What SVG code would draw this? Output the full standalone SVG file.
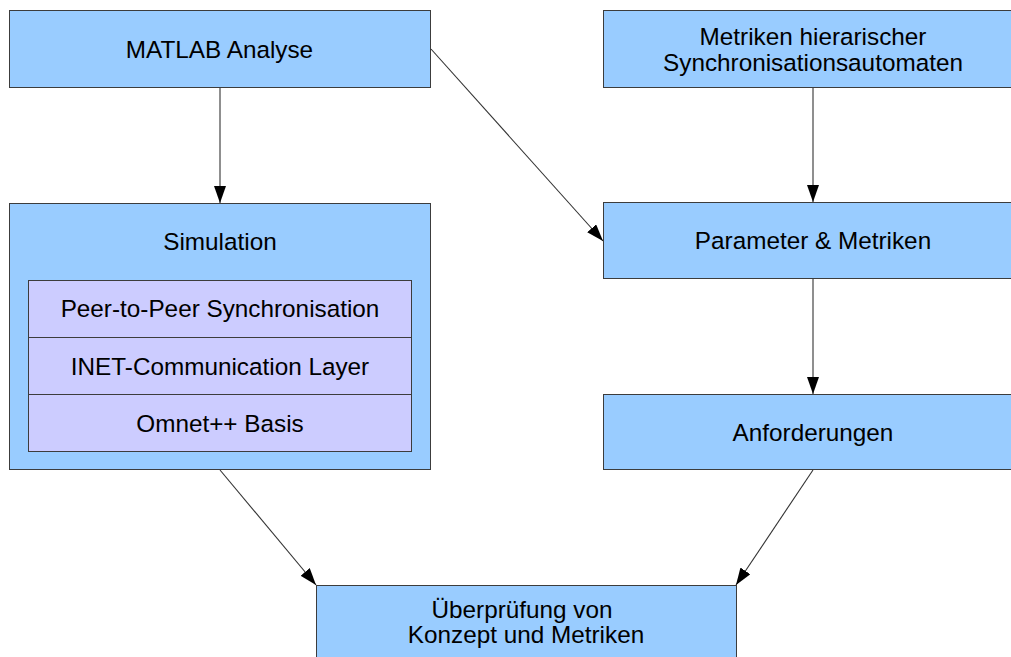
<svg xmlns="http://www.w3.org/2000/svg" width="1011" height="657" viewBox="0 0 1011 657">
<style>
.box{fill:#99ccff;stroke:#3c3c3c;stroke-width:1}
.inner{fill:#ccccff;stroke:#3c3c3c;stroke-width:1}
.t{font-family:"Liberation Sans",Arial,sans-serif;font-size:24.3px;fill:#000;text-anchor:middle}
.c{stroke:#333;stroke-width:1.1;fill:none;marker-end:url(#ah)}
</style>
<defs>
<marker id="ah" markerUnits="userSpaceOnUse" viewBox="0 0 17 12" refX="17" refY="6" markerWidth="17" markerHeight="12" orient="auto">
<path d="M0,0 L17,6 L0,12 z" fill="#000"/>
</marker>
</defs>
<rect width="1011" height="657" fill="#fff"/>
<g id="connectors">
<line class="c" x1="220" y1="88" x2="220" y2="203"/>
<line class="c" x1="431" y1="49" x2="603" y2="241"/>
<line class="c" x1="813" y1="88" x2="813" y2="202"/>
<line class="c" x1="813" y1="279" x2="813" y2="394"/>
<line class="c" x1="220" y1="470" x2="316" y2="585"/>
<line class="c" x1="813" y1="470" x2="736" y2="585"/>
</g>
<g id="matlab">
<rect class="box" x="9.5" y="10.5" width="421" height="77"/>
<text class="t" x="219.5" y="57.5">MATLAB Analyse</text>
</g>
<g id="metriken">
<rect class="box" x="603.5" y="10.5" width="420" height="77"/>
<text class="t" x="813" y="45">Metriken hierarischer</text>
<text class="t" x="813" y="71">Synchronisationsautomaten</text>
</g>
<g id="simulation">
<rect class="box" x="9.5" y="203.5" width="421" height="266"/>
<text class="t" x="220" y="250">Simulation</text>
</g>
<g id="peer">
<rect class="inner" x="28.5" y="280.5" width="383" height="57"/>
<text class="t" x="220" y="317">Peer-to-Peer Synchronisation</text>
</g>
<g id="inet">
<rect class="inner" x="28.5" y="337.5" width="383" height="57"/>
<text class="t" x="220" y="374.5">INET-Communication Layer</text>
</g>
<g id="omnet">
<rect class="inner" x="28.5" y="394.5" width="383" height="57"/>
<text class="t" x="220" y="431.5">Omnet++ Basis</text>
</g>
<g id="parameter">
<rect class="box" x="603.5" y="202.5" width="420" height="76"/>
<text class="t" x="813" y="248.5">Parameter &amp; Metriken</text>
</g>
<g id="anforderungen">
<rect class="box" x="603.5" y="394.5" width="420" height="75"/>
<text class="t" x="813" y="440.5">Anforderungen</text>
</g>
<g id="ueberpruefung">
<rect class="box" x="316.5" y="585.5" width="420" height="90"/>
<text class="t" x="522" y="618">Überprüfung von</text>
<text class="t" x="526" y="643">Konzept und Metriken</text>
</g>
</svg>
